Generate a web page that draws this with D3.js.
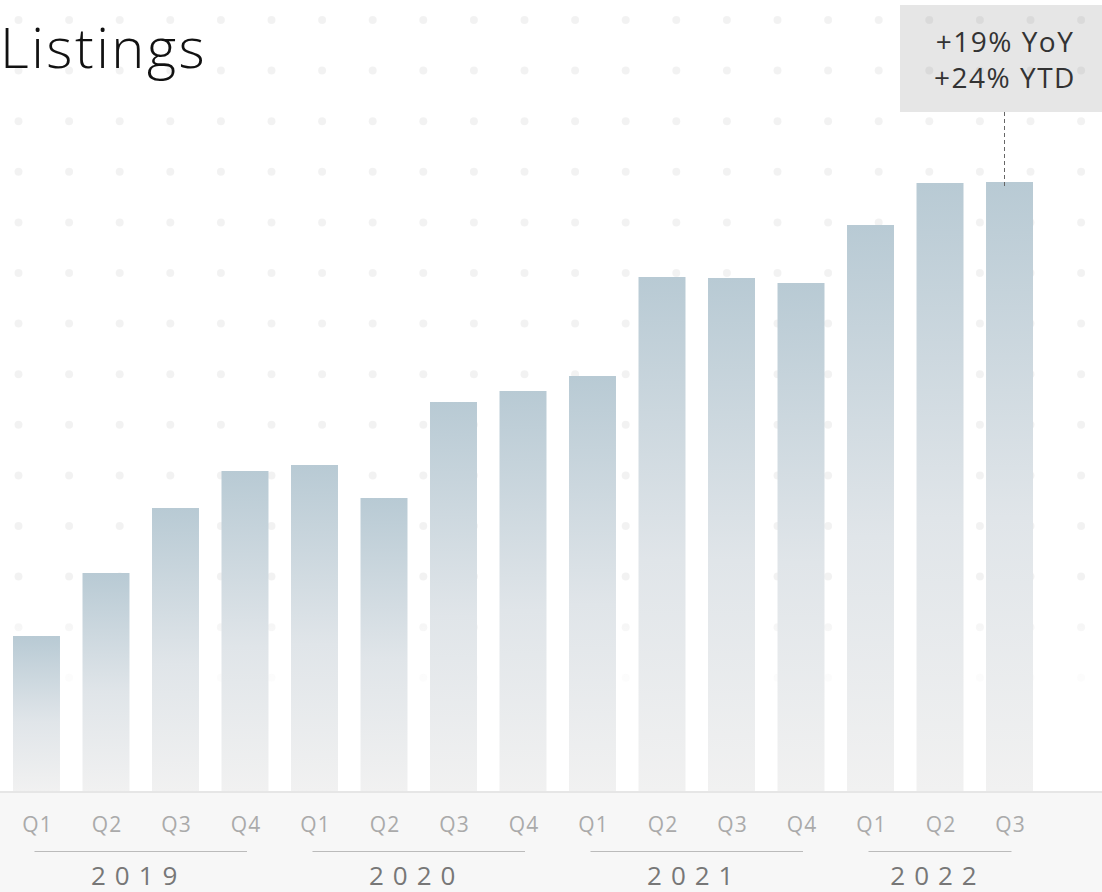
<!DOCTYPE html>
<html>
<head>
<meta charset="utf-8">
<script src="https://cdn.jsdelivr.net/npm/d3@7"></script>
<style>
  html, body { margin: 0; padding: 0; background: #fff; }
  svg { display: block; font-family: "Open Sans", Lato, sans-serif; }
</style>
</head>
<body>
<div id="chart"></div>
<script>
// data (bar heights, arbitrary units)
var years = ["2019", "2020", "2021", "2022"]
var quarters = ["Q1", "Q2", "Q3", "Q4", "Q1", "Q2", "Q3", "Q4", "Q1", "Q2", "Q3", "Q4", "Q1", "Q2", "Q3"]
var quarterYears = ["2019", "2019", "2019", "2019", "2020", "2020", "2020", "2020", "2021", "2021", "2021", "2021", "2022", "2022", "2022"]
var listings = [155, 218, 283, 320, 326, 293, 389, 400, 415, 514, 513, 508, 566, 608, 609]
var calloutLines = ["+19% YoY", "+24% YTD"]

var width = 1102
var height = 892
var baseY = 791

var svg = d3.select("#chart")
  .append("svg")
    .attr("width", width)
    .attr("height", height)

var defs = svg.append("defs")

// gradient for the bars
var barGrad = defs.append("linearGradient")
    .attr("id", "barGrad")
    .attr("x1", 0).attr("y1", 0).attr("x2", 0).attr("y2", 1)
barGrad.append("stop").attr("offset", "0%").attr("stop-color", "#b8cad4")
barGrad.append("stop").attr("offset", "55%").attr("stop-color", "#e0e5e9")
barGrad.append("stop").attr("offset", "100%").attr("stop-color", "#f1f1f1")

// fade for the dot pattern near the bottom
var fade = defs.append("linearGradient")
    .attr("id", "fade")
    .attr("x1", 0).attr("y1", 0).attr("x2", 0).attr("y2", 1)
fade.append("stop").attr("offset", "0%").attr("stop-color", "#fff").attr("stop-opacity", 0)
fade.append("stop").attr("offset", "100%").attr("stop-color", "#fff").attr("stop-opacity", 1)

// callout box (behind the dots)
svg.append("rect")
  .attr("x", 900)
  .attr("y", 5)
  .attr("width", 202)
  .attr("height", 107)
  .attr("fill", "#e6e6e6")

// dotted background
var dots = []
for (var i = 0; i < 22; i++) {
  for (var j = 0; j < 14; j++) {
    dots.push([18.5 + i * 50.6, 20 + j * 50.6])
  }
}
svg.append("g")
  .selectAll("circle")
  .data(dots)
  .enter()
  .append("circle")
    .attr("cx", d => d[0])
    .attr("cy", d => d[1])
    .attr("r", 4)
    .attr("fill", "#000")
    .attr("fill-opacity", 0.05)

svg.append("rect")
  .attr("x", 0)
  .attr("y", 585)
  .attr("width", width)
  .attr("height", 120)
  .attr("fill", "url(#fade)")
svg.append("rect")
  .attr("x", 0)
  .attr("y", 704)
  .attr("width", width)
  .attr("height", baseY - 704)
  .attr("fill", "#fff")

// scales
var x = d3.scaleBand()
  .domain(d3.range(listings.length))
  .range([13, 1033])
  .paddingInner(0.324)
  .paddingOuter(0)

var y = d3.scaleLinear()
  .domain([0, 600])
  .range([baseY, baseY - 600])

// axis band
svg.append("rect")
  .attr("x", 0)
  .attr("y", baseY)
  .attr("width", width)
  .attr("height", height - baseY)
  .attr("fill", "#f7f7f7")
svg.append("line")
  .attr("x1", 0).attr("x2", width)
  .attr("y1", baseY + 1).attr("y2", baseY + 1)
  .attr("stroke", "#e6e6e6")
  .attr("stroke-width", 2)

// bars
svg.append("g")
  .selectAll("rect")
  .data(listings)
  .enter()
  .append("rect")
    .attr("x", (d, i) => x(i))
    .attr("y", d => y(d))
    .attr("width", x.bandwidth())
    .attr("height", d => baseY - y(d))
    .attr("fill", "url(#barGrad)")

// quarter labels
svg.append("g")
  .selectAll("text")
  .data(quarters)
  .enter()
  .append("text")
    .attr("x", (d, i) => x(i) + x.bandwidth() / 2 + 1)
    .attr("y", 832)
    .attr("text-anchor", "middle")
    .attr("fill", "#aaaaaa")
    .style("font-size", "21px")
    .style("letter-spacing", "1px")
    .text(d => d)

// year groups
years.forEach(function(yr) {
  var idx = d3.range(quarters.length).filter(i => quarterYears[i] === yr)
  var x0 = x(idx[0]) + x.bandwidth() / 2
  var x1 = x(idx[idx.length - 1]) + x.bandwidth() / 2
  svg.append("line")
    .attr("x1", x0 - 2).attr("x2", x1 + 2)
    .attr("y1", 851.5).attr("y2", 851.5)
    .attr("stroke", "#bbbbbb")
    .attr("stroke-width", 1)
  svg.append("text")
    .attr("x", (x0 + x1) / 2 - 2)
    .attr("y", 885)
    .attr("text-anchor", "middle")
    .attr("fill", "#777777")
    .style("font-size", "26px")
    .style("letter-spacing", "9px")
    .text(yr)
})

// callout
var last = listings.length - 1
svg.append("line")
  .attr("x1", x(last) + x.bandwidth() / 2 - 5)
  .attr("x2", x(last) + x.bandwidth() / 2 - 5)
  .attr("y1", 112)
  .attr("y2", y(listings[last]) + 5)
  .attr("stroke", "#666")
  .attr("stroke-dasharray", "4,3")

svg.append("g")
  .selectAll("text")
  .data(calloutLines)
  .enter()
  .append("text")
    .attr("x", 1005)
    .attr("y", (d, i) => 52 + i * 36)
    .attr("text-anchor", "middle")
    .attr("fill", "#333")
    .style("font-size", "28px")
    .style("letter-spacing", "1.5px")
    .text(d => d)

// title
svg.append("text")
  .attr("x", 0)
  .attr("y", 68)
  .attr("fill", "#111")
  .style("font-size", "56px")
  .style("font-weight", 300)
  .style("letter-spacing", "2.5px")
  .text("Listings")
</script>
</body>
</html>
